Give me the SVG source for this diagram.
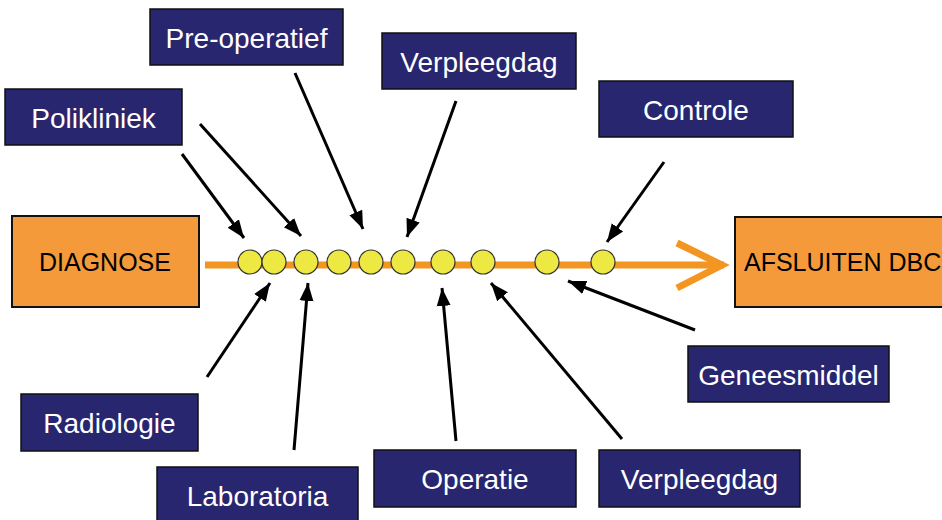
<svg xmlns="http://www.w3.org/2000/svg" width="942" height="520" viewBox="0 0 942 520">
<defs>
<style>
.lbl rect{fill:#28266F;stroke:#111;stroke-width:1.5}
.lbl text{fill:#fff;font-family:"Liberation Sans",Arial,sans-serif;font-size:28px;text-anchor:middle}
.end rect{fill:#F49A3B;stroke:#111;stroke-width:2}
.end text{fill:#000;font-family:"Liberation Sans",Arial,sans-serif;font-size:25px}
.dot{fill:#EEE842;stroke:#333;stroke-width:1.2}
.arr{stroke:#000;stroke-width:3;fill:none;marker-end:url(#ah)}
</style>
<marker id="ah" markerUnits="userSpaceOnUse" markerWidth="20" markerHeight="20" viewBox="0 0 20 20" refX="18" refY="10" orient="auto">
<path d="M0,3 L18,10 L0,17 Z" fill="#000"/>
</marker>
</defs>
<rect width="942" height="520" fill="#fff"/>
<g id="timeline">
<line x1="205" y1="265" x2="724" y2="265" stroke="#F39521" stroke-width="7"/>
<polyline points="677,243 722,265 677,288" fill="none" stroke="#F39521" stroke-width="7" stroke-linejoin="miter"/>
<circle class="dot" cx="250" cy="262" r="12"/>
<circle class="dot" cx="274" cy="262" r="12"/>
<circle class="dot" cx="306" cy="262" r="12"/>
<circle class="dot" cx="339" cy="262" r="12"/>
<circle class="dot" cx="371" cy="262" r="12"/>
<circle class="dot" cx="403" cy="262" r="12"/>
<circle class="dot" cx="443" cy="262" r="12"/>
<circle class="dot" cx="483" cy="262" r="12"/>
<circle class="dot" cx="547" cy="262" r="12"/>
<circle class="dot" cx="603" cy="262" r="12"/>
</g>
<g id="connectors">
<line class="arr" x1="182" y1="154" x2="244" y2="238"/>
<line class="arr" x1="200" y1="124" x2="301" y2="236"/>
<line class="arr" x1="295" y1="73" x2="363" y2="229"/>
<line class="arr" x1="456" y1="101" x2="407" y2="237"/>
<line class="arr" x1="664" y1="162" x2="607" y2="242"/>
<line class="arr" x1="207" y1="377" x2="270" y2="283"/>
<line class="arr" x1="294" y1="450" x2="308" y2="283"/>
<line class="arr" x1="456" y1="441" x2="442" y2="288"/>
<line class="arr" x1="622" y1="439" x2="491" y2="283"/>
<line class="arr" x1="695" y1="330" x2="568" y2="281"/>
</g>
<g id="diagnose" class="end"><rect x="12" y="216" width="187" height="91"/><text x="105" y="271" text-anchor="middle">DIAGNOSE</text></g>
<g id="afsluiten" class="end"><rect x="735" y="217" width="212" height="90"/><text x="744" y="271">AFSLUITEN DBC</text></g>
<g id="preoperatief" class="lbl"><rect x="150" y="9" width="193" height="56"/><text x="246.5" y="48">Pre-operatief</text></g>
<g id="verpleegdag1" class="lbl"><rect x="382" y="33" width="194" height="56"/><text x="479" y="72">Verpleegdag</text></g>
<g id="polikliniek" class="lbl"><rect x="5" y="89" width="177" height="56"/><text x="93.5" y="128">Polikliniek</text></g>
<g id="controle" class="lbl"><rect x="599" y="81" width="194" height="56"/><text x="696" y="120">Controle</text></g>
<g id="radiologie" class="lbl"><rect x="21" y="394" width="177" height="57"/><text x="109.5" y="433">Radiologie</text></g>
<g id="laboratoria" class="lbl"><rect x="157" y="467" width="201" height="56"/><text x="257.5" y="506">Laboratoria</text></g>
<g id="operatie" class="lbl"><rect x="374" y="450" width="202" height="57"/><text x="475" y="489">Operatie</text></g>
<g id="verpleegdag2" class="lbl"><rect x="599" y="450" width="201" height="57"/><text x="699.5" y="489">Verpleegdag</text></g>
<g id="geneesmiddel" class="lbl"><rect x="688" y="346" width="201" height="56"/><text x="788.5" y="385">Geneesmiddel</text></g>
</svg>
